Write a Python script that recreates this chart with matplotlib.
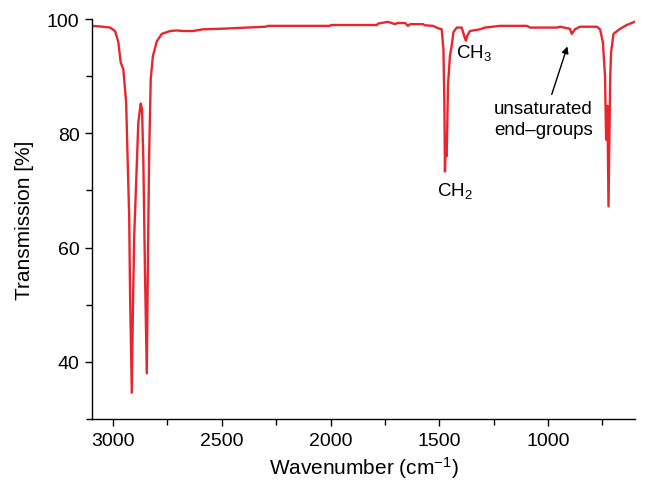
import matplotlib.pyplot as plt
from matplotlib.ticker import MultipleLocator

# IR spectrum of polyethylene
wavenumber = [
    3100, 3060, 3014, 2991, 2976, 2965, 2953, 2940, 2934, 2926,
    2922, 2914, 2909, 2903, 2894, 2884, 2873, 2867, 2861, 2853,
    2845, 2839, 2834, 2827, 2817, 2799, 2776, 2738, 2707, 2678,
    2632, 2586, 2500, 2300, 2287, 2140, 2002, 1998, 1786, 1782,
    1736, 1703, 1694, 1657, 1644, 1634, 1575, 1566, 1529, 1506,
    1489, 1481, 1477, 1474, 1470, 1466, 1460, 1451, 1443, 1435,
    1420, 1397, 1386, 1378, 1371, 1359, 1313, 1290, 1221, 1097,
    1083, 959, 945, 900, 891, 876, 853, 775, 761, 748,
    738, 733, 727, 722, 714, 710, 699, 672, 641, 603,
]
transmission = [
    98.8, 98.7, 98.5, 97.9, 96.0, 92.4, 91.2, 85.4, 76.6, 65.4,
    52.0, 34.6, 49.0, 61.9, 71.4, 81.9, 85.2, 84.2, 75.4, 54.8,
    38.0, 60.8, 76.6, 89.5, 93.5, 96.1, 97.4, 97.9, 98.0, 97.9,
    97.9, 98.2, 98.3, 98.65, 98.8, 98.8, 98.8, 98.95, 98.95, 99.2,
    99.5, 99.1, 99.3, 99.3, 98.8, 99.1, 99.1, 98.9, 98.8, 98.4,
    98.2, 94.7, 86.0, 73.3, 79.0, 76.0, 88.5, 93.6, 95.3, 97.7,
    98.5, 98.5, 97.1, 96.2, 97.1, 97.9, 98.2, 98.5, 98.8, 98.8,
    98.5, 98.5, 98.65, 98.3, 97.4, 98.2, 98.65, 98.65, 98.2, 96.0,
    90.0, 78.9, 84.8, 67.2, 90.0, 94.2, 97.4, 98.2, 98.9, 99.5,
]

# band labels: (text, wavenumber, transmission at baseline)
band_labels = [
    ("CH$_2$", 1428, 69.2),
    ("CH$_3$", 1340, 93.3),
    ("unsaturated", 1022, 83.6),
    ("end\u2013groups", 1022, 79.8),
]
endgroup_arrow_tail = (983, 86.8)
endgroup_arrow_head = (911, 95.2)


def plot_spectrum(output: str = "out.png") -> None:
    """Draw the IR transmission spectrum and save it."""
    plt.rcParams["font.family"] = ["Liberation Sans", "DejaVu Sans"]
    plt.rcParams["mathtext.default"] = "regular"

    fig = plt.figure(figsize=(6.47, 4.81), dpi=100)
    ax = fig.add_axes([0.1422, 0.1268, 0.8393, 0.8316])

    ax.plot(wavenumber, transmission, color="#e8262f", linewidth=1.7)

    ax.set_xlim(3097, 600)
    ax.set_ylim(30, 100)
    ax.xaxis.set_major_locator(MultipleLocator(500))
    ax.xaxis.set_minor_locator(MultipleLocator(250))
    ax.yaxis.set_major_locator(MultipleLocator(20))
    ax.yaxis.set_minor_locator(MultipleLocator(10))
    ax.set_yticks([40, 60, 80, 100])

    for side in ("top", "right"):
        ax.spines[side].set_visible(False)
    for side in ("left", "bottom"):
        ax.spines[side].set_linewidth(1.0)
    ax.tick_params(which="major", direction="out", length=5, width=1.0,
                   labelsize=14, pad=4)
    ax.tick_params(which="minor", direction="out", length=4, width=1.0)

    ax.set_xlabel("Wavenumber (cm$^{\u22121}$)", fontsize=15, labelpad=4)
    ax.set_ylabel("Transmission [%]", fontsize=15, labelpad=9)

    for text, x, y in band_labels:
        ax.text(x, y, text, ha="center", va="baseline", fontsize=13.5)

    ax.annotate(
        "",
        xy=endgroup_arrow_head,
        xytext=endgroup_arrow_tail,
        arrowprops=dict(arrowstyle="-|>", color="black", lw=1.0,
                        mutation_scale=10, shrinkA=0, shrinkB=0),
    )

    fig.savefig(output, dpi=100)
    plt.close(fig)


if __name__ == "__main__":
    plot_spectrum()
